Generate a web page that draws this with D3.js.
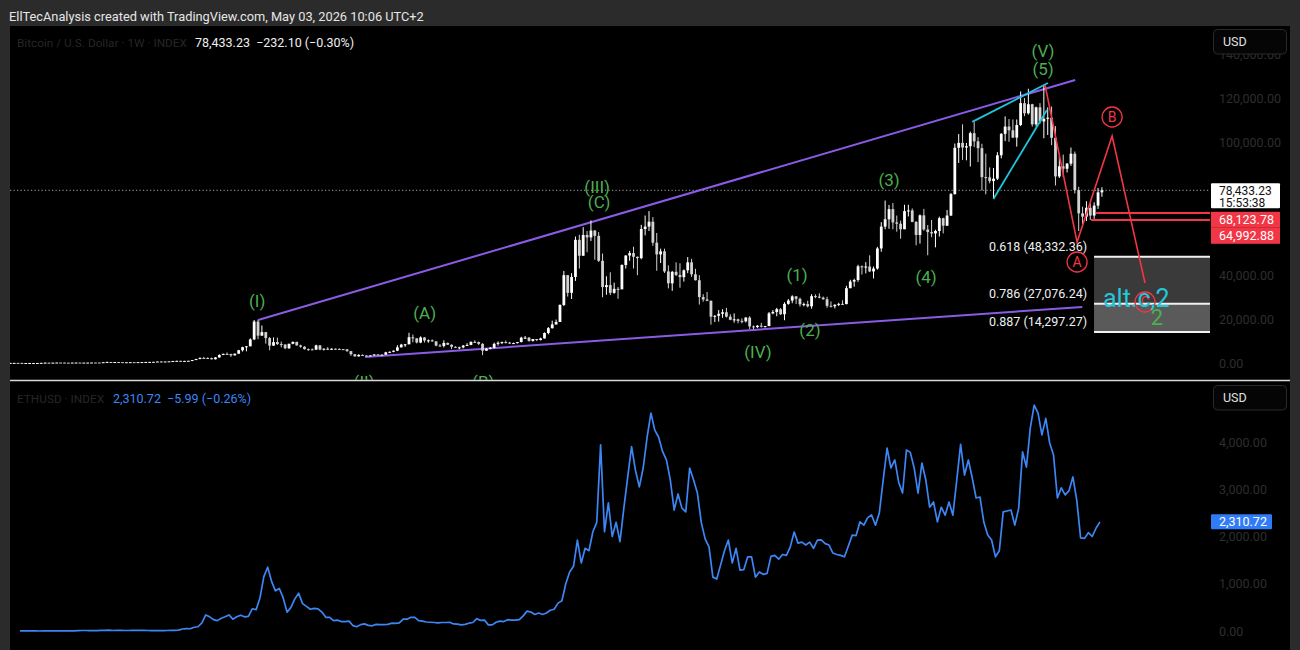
<!DOCTYPE html>
<html><head><meta charset="utf-8">
<script src="https://cdn.jsdelivr.net/npm/d3@7"></script>
<style>
html,body{margin:0;padding:0;background:#2b2b2b;}
svg{display:block;}
text{font-family:Roboto,"Noto Sans",sans-serif;}
</style></head><body>
<svg id="c" width="1300" height="650"></svg>
<script>
// ---------------- DATA ----------------
// BTC biweekly candles (period start dates from btcStart, every 14 days)
const btcStart = "2015-07-05";
const btcClose = [
 270,280,265,230,230,230,238,250,290,370,330,390,440,
 430,385,375,410,435,415,420,425,460,455,440,580,690,660,670,610,570,575,610,605,615,655,705,735,770,895,
 820,920,1000,1150,1200,970,1180,1240,1550,2050,2520,2500,2430,1920,2750,3850,4350,4300,3700,4450,6000,7400,7800,10900,19000,12600,
 14200,11500,8100,9700,8800,8600,6900,8900,9800,8200,7600,6500,6400,6250,8200,6300,6700,6200,6700,6600,6500,6400,5600,4200,3200,3900,
 3600,3580,3650,4100,3950,4000,5050,5300,5800,7300,8550,8700,11900,11400,9500,11800,10400,10500,10000,8100,7950,9300,8500,7550,7200,7300,
 8100,8400,9800,9700,8900,5800,6750,7100,8900,9400,9700,9450,9000,9250,9700,11700,11700,10200,11100,10600,11350,13800,16000,17700,18800,26500,
 40000,32000,39200,56000,48800,58200,57100,60200,57800,46500,34600,35500,32000,33800,33600,44600,48900,50000,48300,47700,60900,62000,64200,54700,49400,50800,
 41700,36300,41500,40100,39100,42200,45800,40400,37700,30100,29000,28400,21200,21600,22500,23200,21200,19800,20000,19300,19100,20800,16800,16500,17100,16800,
 16950,22700,23300,24600,22300,27000,28500,30400,29300,26800,26900,25900,30500,30300,29800,29100,26100,25900,26600,27000,26900,34100,37100,37800,44000,43700,
 43900,41700,43000,52100,62000,65300,69900,63900,63300,60800,69000,69300,64100,58200,67100,60700,59500,58900,60000,65800,62400,67000,76700,97700,99900,97800,
 98400,104300,100600,97500,84400,84300,82600,83700,94300,104000,107300,105600,102300,108000,117900,113300,117400,108300,116000,109600,110800,111300,102200,84700,89300,88200,
 90500,95000,78500,68000,66500,70500,67000,71500,77500,78433
];
const btcHigh = [
 300,315,290,270,245,245,245,265,330,500,385,420,465,
 465,460,400,420,445,425,425,430,465,465,450,590,780,700,690,680,600,590,620,610,620,660,740,745,780,910,
 1150,930,1030,1180,1290,1250,1200,1250,1580,2100,2780,2980,2780,2650,2900,4200,4480,4980,4400,4470,6150,7600,7900,11400,19700,19800,
 17200,14300,12000,11800,11700,9900,8700,9000,9900,9800,8500,7800,6800,6800,8500,8300,6800,7400,6800,6800,6800,6600,6600,5700,4300,4200,
 4100,3800,3650,4200,4200,4050,5300,5450,5900,8300,8900,8800,13900,13100,11100,12300,11900,10900,10900,10100,8800,10500,9500,8600,7800,7600,
 8400,9200,9950,10500,9950,9200,7000,7450,9450,10000,9900,10400,9800,9450,9700,12100,12450,12000,11100,11000,11700,14100,16500,19400,19900,26800,
 41900,40000,40900,57500,58300,61700,60000,64800,60400,59500,49800,39500,41300,36600,34600,44900,49000,51000,52900,48500,62800,67000,69000,66300,59100,52000,
 52000,44400,41900,45800,45400,42600,48200,47400,42900,40000,31400,32400,28500,21900,24200,24600,25200,22300,22700,20300,20400,21000,21400,17200,17400,18400,
 17000,23300,24200,25200,25100,27700,29200,30900,30500,29800,27600,28400,31400,31300,31800,30300,30200,28100,26800,27500,28600,35200,37900,38400,44700,44400,
 45900,49000,43900,52800,64000,73800,71800,72700,67000,64700,71900,71900,70200,64500,67500,70000,62700,65000,60600,66500,66000,69500,77200,99600,103900,108300,
 99900,105000,109300,102500,99500,95000,88800,88500,95700,104300,111900,110700,110500,110500,123200,120200,124400,117600,116300,117900,126200,116000,116400,107500,93900,94600,
 90800,97800,96000,80000,71000,73500,72500,73000,79500,79800
];
const btcLow = [
 255,260,260,200,215,225,230,240,260,300,310,350,400,
 420,360,365,370,400,405,410,415,420,440,435,520,580,600,650,480,560,560,595,590,600,615,690,715,750,850,
 750,820,910,980,1120,900,940,1160,1220,1550,1900,2400,2250,1830,1830,2650,3800,4100,2970,3600,4300,5400,5500,7800,10600,11000,
 12700,9000,6000,8000,8400,7300,6500,6600,8700,8100,7100,6300,5800,6100,6300,6000,5900,6100,6100,6300,6100,6300,5300,3500,3150,3200,
 3550,3500,3400,3550,3700,3850,3900,4900,5100,5600,7500,7500,8900,9600,9100,9200,9500,9400,9900,7800,7800,7300,8400,6500,7000,6450,
 6850,8050,8300,9300,8400,3800,5700,6500,6800,8100,8800,9100,8900,8900,9050,9600,11100,9900,9900,10150,10500,11300,13200,15800,17600,19000,
 26000,30300,29200,37400,43000,48900,50400,55500,47000,46000,30000,31100,31000,31600,29300,34000,43000,46500,43000,40000,47200,58000,60000,53300,42000,45500,
 41000,34000,32900,39600,34300,37100,40900,39200,37600,26700,28000,28200,17600,18800,19000,20700,20800,19600,18500,18200,18200,18600,15600,15500,16000,16300,
 16300,16900,22300,21400,22000,19600,26600,27300,27000,25800,25900,25400,24800,29600,29500,28900,25200,25400,24900,26000,26500,26800,34100,34800,37000,40300,
 40800,41400,38500,42500,50600,60800,61000,60800,59700,56500,60800,66600,64000,53500,54300,60100,49000,57200,52600,57500,58900,62300,66800,76500,90800,92200,
 92000,89200,98000,91200,78300,76600,81600,74500,83100,92900,100700,100400,102100,98200,107500,112000,112700,107300,107300,108600,102000,103500,98900,80600,84000,84500,
 86500,89500,77000,60000,62500,64500,65000,65500,70000,75500
];
// ETH biweekly closes
const ethStart = "2015-08-09";
const ethClose = [
 0.8,1.3,1.2,0.9,0.7,0.5,1.0,0.9,0.9,0.9,0.9,
 1.1,1.6,2.5,3.5,6.5,11,11,8,7.5,9,12,14,17,11,11.5,12,11,11,12.5,13,12,11.5,10.5,9.5,8,8,
 10,10.7,11.3,12.8,19,42,50,48,80,90,170,340,300,240,220,270,300,340,250,300,335,300,310,470,450,700,
 1150,1350,1050,850,900,700,400,500,680,800,580,520,460,480,470,400,290,290,220,230,200,200,210,115,90,135,
 150,120,110,140,135,135,140,165,160,170,250,250,290,290,220,210,190,185,180,170,180,180,185,150,145,130,
 140,165,180,260,225,230,130,130,185,210,200,240,230,230,240,320,420,400,350,380,350,380,440,460,590,640,
 1000,1250,1370,1925,1440,1750,1700,2100,2300,3940,2100,2710,2000,2300,1890,2600,3260,3900,3400,3050,3450,4100,4610,4250,4100,3800,
 3620,3200,2560,2900,2600,2520,3450,3200,2920,2300,1950,1780,1140,1100,1400,1700,1925,1440,1750,1290,1300,1570,1570,1140,1250,1200,
 1220,1580,1600,1520,1620,1600,1780,2095,1860,1880,1820,1880,1750,1925,1930,1850,1820,1650,1620,1600,1570,1800,2030,2020,2310,2240,
 2400,2455,2240,2500,3200,3870,3450,3620,3150,2920,3830,3780,3450,2920,3555,3200,2620,2730,2310,2620,2450,2730,2450,3195,3950,3300,
 3620,3240,2815,2835,2300,2030,1925,1570,1700,2520,2540,2560,2240,2600,3790,3470,4300,4780,4610,4150,4500,3980,3725,2815,3030,2880,
 2970,3260,2770,1970,1960,2080,2000,2180,2310
];
// axis ticks (60k and 80k sit under the price labels in the reference)
const btcTicks = [0,20000,40000,100000,120000,140000];
const ethTicks = [0,1000,2000,3000,4000];
// price readouts
const btcLast = 78433.23, btcChg = "\u2212232.10 (\u22120.30%)", btcTimer = "15:53:38";
const ethLast = 2310.72, ethChg = "\u22125.99 (\u22120.26%)";
const redLevels = [{v:68123.78, from:2026.257},{v:64992.88, from:2026.208}];
const fibLevels = [{r:"0.618", v:48332.36},{r:"0.786", v:27076.24},{r:"0.887", v:14297.27}];
// drawings [decimal year, price]
const purpleUpper = [[2017.96,19700],[2026.05,128400]];
const purpleLower = [[2019.02,2900],[2026.12,25600]];
const cyan1 = [[2025.03,109400],[2025.78,127000]];
const cyan2 = [[2025.24,74500],[2025.77,114800]];
const zigzag = [[2025.752,126000],[2026.069,55000],[2026.416,103000],[2026.742,36450]];
const waveLabels = [
 {t:"(I)",y:2017.95,v:28300},{t:"(II)",y:2019.01,v:-8400},{t:"(A)",y:2019.61,v:22870},
 {t:"(B)",y:2020.19,v:-8400},{t:"(III)",y:2021.316,v:79925},{t:"(C)",y:2021.336,v:73133},
 {t:"(IV)",y:2022.91,v:5208},{t:"(1)",y:2023.297,v:40076},{t:"(2)",y:2023.425,v:15170},
 {t:"(3)",y:2024.208,v:83095},{t:"(4)",y:2024.574,v:39170},{t:"(V)",y:2025.732,v:141512},
 {t:"(5)",y:2025.732,v:133360}
];
const circleLabels = [{t:"A",y:2026.069,v:45963},{t:"B",y:2026.416,v:111624},{t:"C",y:2026.742,v:27850}];

// ---------------- LAYOUT ----------------
const W=1300,H=650, PL=10, PR=1210, AXR=1290, TOP=26, DIV=380.5, BOT=650;
const FONT = "Roboto, 'Noto Sans', sans-serif";
const DAY = 864e5;
function dy(y){const yr=Math.floor(y);const a=Date.UTC(yr,0,1),b=Date.UTC(yr+1,0,1);return new Date(a+(y-yr)*(b-a));}
const x = d3.scaleUtc().domain([dy(2015.504), dy(2027.386)]).range([PL, PR]);
const yB = d3.scaleLinear().domain([0,120000]).range([363.5, 98.5]);
const yE = d3.scaleLinear().domain([0,4000]).range([631, 442]);

const svg = d3.select("#c");
svg.append("rect").attr("width",W).attr("height",H).attr("fill","#2b2b2b");
svg.append("rect").attr("x",PL).attr("y",TOP).attr("width",AXR-PL).attr("height",BOT-TOP).attr("fill","#000");
svg.append("text").attr("x",9).attr("y",21).attr("fill","#e6e6e6").style("font-size","12.8px")
  .text("EllTecAnalysis created with TradingView.com, May 03, 2026 10:06 UTC+2");

const defs = svg.append("defs");
defs.append("clipPath").attr("id","clipTop").append("rect").attr("x",PL).attr("y",TOP).attr("width",PR-PL).attr("height",DIV-TOP-0.8);
defs.append("clipPath").attr("id","clipBot").append("rect").attr("x",PL).attr("y",DIV+1).attr("width",PR-PL).attr("height",BOT-DIV);

const gTop = svg.append("g").attr("clip-path","url(#clipTop)");
const gBot = svg.append("g").attr("clip-path","url(#clipBot)");

// axis labels
function axisLabels(scale, ticks){
  const a = d3.axisRight(scale).tickValues(ticks).tickSize(0).tickPadding(9).tickFormat(d3.format(",.2f"));
  const g = svg.append("g").attr("transform",`translate(${PR},0)`).call(a);
  g.select(".domain").remove();
  g.selectAll("text").attr("fill","#2e2e2e").style("font-size","12.5px").style("font-family",FONT);
  return g;
}
axisLabels(yB, btcTicks);
axisLabels(yE, ethTicks);

// current price dotted line
gTop.append("line").attr("x1",PL).attr("x2",PR).attr("y1",yB(btcLast)).attr("y2",yB(btcLast))
  .attr("stroke","#a8a8a8").attr("stroke-width",1).attr("stroke-dasharray","1.2,2.3");

// fib boxes
const fibX0 = x(dy(2026.237));
gTop.append("rect").attr("x",fibX0).attr("width",PR-fibX0).attr("y",yB(fibLevels[0].v)).attr("height",yB(fibLevels[1].v)-yB(fibLevels[0].v)).attr("fill","#3a3a3a");
gTop.append("rect").attr("x",fibX0).attr("width",PR-fibX0).attr("y",yB(fibLevels[1].v)).attr("height",yB(fibLevels[2].v)-yB(fibLevels[1].v)).attr("fill","#5a5a5a");
fibLevels.forEach(f=>{
  gTop.append("line").attr("x1",fibX0).attr("x2",PR).attr("y1",yB(f.v)).attr("y2",yB(f.v)).attr("stroke","#f2f2f2").attr("stroke-width",2);
  gTop.append("text").attr("x",x(dy(2026.168))).attr("y",yB(f.v)-6).attr("text-anchor","end")
    .attr("fill","#f0f0f0").style("font-size","12.5px").text(`${f.r} (${d3.format(",.2f")(f.v)})`);
});

// red levels
redLevels.forEach(r=>{
  gTop.append("line").attr("x1",x(dy(r.from))).attr("x2",PR).attr("y1",yB(r.v)).attr("y2",yB(r.v)).attr("stroke","#f23645").attr("stroke-width",2);
});

// purple trend lines
const lineGen = d3.line().x(d=>x(dy(d[0]))).y(d=>yB(d[1]));
[purpleUpper,purpleLower].forEach(p=>gTop.append("path").attr("d",lineGen(p)).attr("stroke","#8a5ce6").attr("stroke-width",2).attr("fill","none"));

// candles
const t0 = d3.utcParse("%Y-%m-%d")(btcStart).getTime();
const btc = btcClose.map((c,i)=>({d:new Date(t0+i*14*DAY), o:i?btcClose[i-1]:c, c, h:btcHigh[i], l:btcLow[i]}));
const cg = gTop.append("g");
const col = d=> d.c>=d.o ? "#ffffff" : "#d2d2d2";
cg.selectAll("line").data(btc).join("line")
  .attr("x1",d=>x(d.d)).attr("x2",d=>x(d.d))
  .attr("y1",d=>yB(Math.max(d.h,d.o,d.c))).attr("y2",d=>yB(Math.min(d.l,d.o,d.c)))
  .attr("stroke",col).attr("stroke-width",1);
cg.selectAll("rect").data(btc).join("rect")
  .attr("x",d=>x(d.d)-1.4).attr("width",2.8)
  .attr("y",d=>yB(Math.max(d.o,d.c))).attr("height",d=>Math.max(1,Math.abs(yB(d.o)-yB(d.c))))
  .attr("fill",col);

// cyan lines
[cyan1,cyan2].forEach(p=>gTop.append("path").attr("d",lineGen(p)).attr("stroke","#22c3dc").attr("stroke-width",1.8).attr("fill","none"));
// red zigzag
gTop.append("path").attr("d",lineGen(zigzag)).attr("stroke","#f23645").attr("stroke-width",1.6).attr("fill","none");

// wave labels
gTop.selectAll("text.wave").data(waveLabels).join("text").attr("class","wave")
  .attr("x",d=>x(dy(d.y))).attr("y",d=>yB(d.v)).attr("dy","0.36em").attr("text-anchor","middle")
  .attr("fill","#4caf50").style("font-size","17px").text(d=>d.t);

// circled labels
const cl = gTop.selectAll("g.circ").data(circleLabels).join("g").attr("class","circ")
  .attr("transform",d=>`translate(${x(dy(d.y))},${yB(d.v)})`);
cl.append("circle").attr("r",10).attr("fill","none").attr("stroke","#f23645").attr("stroke-width",1.3);
cl.append("text").attr("text-anchor","middle").attr("dy","0.36em").attr("fill","#f23645").style("font-size","14px").text(d=>d.t);

// alt.c,2 and green 2
gTop.append("text").attr("x",x(dy(2026.326))).attr("y",yB(25585)).attr("fill","#26c6da").style("font-size","25px").text("alt.c,2");
gTop.append("text").attr("x",x(dy(2026.861))).attr("y",yB(21057)).attr("dy","0.36em").attr("text-anchor","middle").attr("fill","#4caf50").style("font-size","22px").text("2");

// ETH line
const e0 = d3.utcParse("%Y-%m-%d")(ethStart).getTime();
const eth = ethClose.map((v,i)=>({d:new Date(e0+i*14*DAY), v}));
gBot.append("path").datum(eth).attr("d",d3.line().x(d=>x(d.d)).y(d=>yE(d.v)))
  .attr("fill","none").attr("stroke","#3d86f5").attr("stroke-width",1.7).attr("stroke-linejoin","round");

// divider
svg.append("line").attr("x1",PL).attr("x2",AXR).attr("y1",DIV).attr("y2",DIV).attr("stroke","#d9d9d9").attr("stroke-width",1.6);

// price labels
const yl = yB(btcLast);
svg.append("rect").attr("x",1211).attr("y",yl-7).attr("width",69).attr("height",25).attr("rx",1).attr("fill","#ffffff");
svg.append("text").attr("x",1219).attr("y",yl).attr("dy","0.36em").attr("fill","#111").style("font-size","12px").text(d3.format(",.2f")(btcLast));
svg.append("text").attr("x",1219).attr("y",yl+12.5).attr("dy","0.36em").attr("fill","#111").style("font-size","12px").text(btcTimer);
redLevels.forEach((r,i)=>{
  const ty = yl+18+3.5+i*16;
  svg.append("rect").attr("x",1211).attr("y",ty).attr("width",69).attr("height",16).attr("fill","#f23645");
  svg.append("text").attr("x",1219).attr("y",ty+8).attr("dy","0.36em").attr("fill","#fff").style("font-size","12.5px").text(d3.format(",.2f")(r.v));
});
const ye = yE(ethLast);
svg.append("rect").attr("x",1211).attr("y",ye-7.5).attr("width",61).attr("height",15).attr("rx",1).attr("fill","#2f7cf6");
svg.append("text").attr("x",1219).attr("y",ye).attr("dy","0.36em").attr("fill","#fff").style("font-size","12.5px").text(d3.format(",.2f")(ethLast));

// USD buttons
[29, 385].forEach(yy=>{
  svg.append("rect").attr("x",1213.5).attr("y",yy+0.5).attr("width",73).attr("height",24.5).attr("rx",4).attr("fill","#050505").attr("stroke","#2a2a2a");
  svg.append("text").attr("x",1223).attr("y",yy+12.5).attr("dy","0.36em").attr("fill","#e0e0e0").style("font-size","12.5px").text("USD");
});

// legends
svg.append("text").attr("x",17).attr("y",47).style("font-size","11.8px").attr("fill","#262626").text("Bitcoin / U.S. Dollar \u00b7 1W \u00b7 INDEX");
svg.append("text").attr("x",195).attr("y",47).style("font-size","12.5px").attr("fill","#f0f0f0").attr("xml:space","preserve").text(`${d3.format(",.2f")(btcLast)}  ${btcChg}`);
svg.append("text").attr("x",17).attr("y",403).style("font-size","11.8px").attr("fill","#262626").text("ETHUSD \u00b7 INDEX");
svg.append("text").attr("x",113).attr("y",403).style("font-size","12.5px").attr("fill","#3d86f5").attr("xml:space","preserve").text(`${d3.format(",.2f")(ethLast)}  ${ethChg}`);
</script></body></html>
